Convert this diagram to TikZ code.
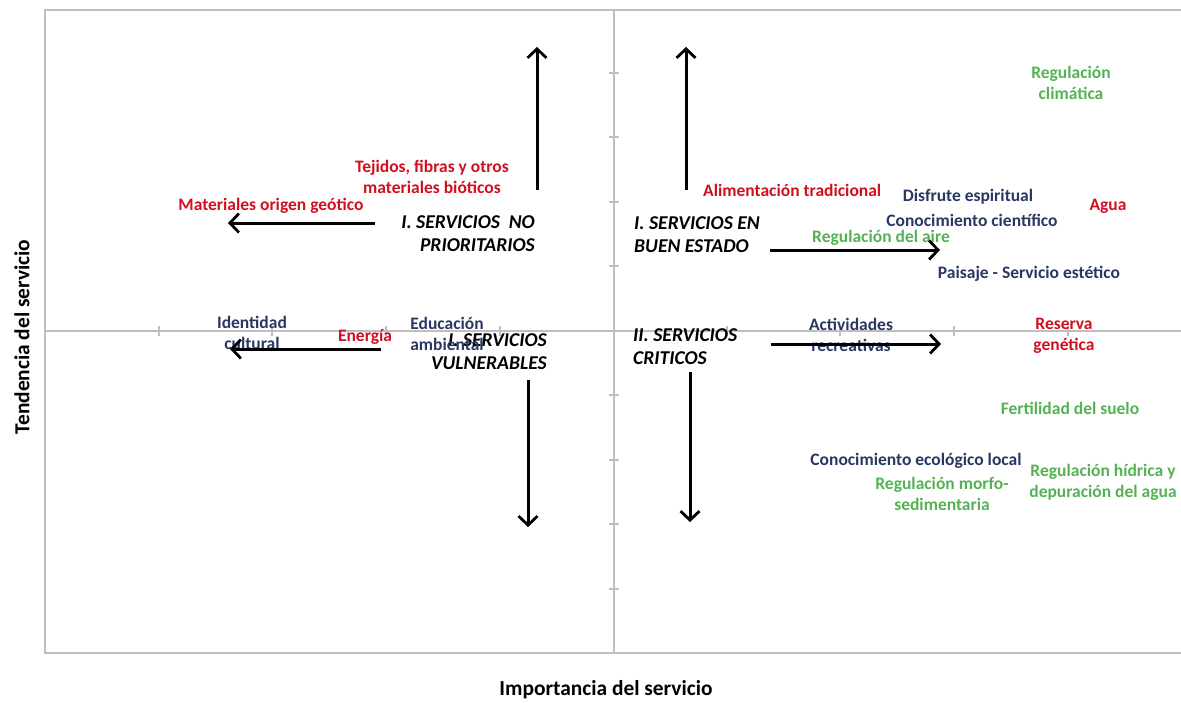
\documentclass[tikz,border=0pt]{standalone}
\usepackage{fontspec}
\setmainfont{Carlito}
\usetikzlibrary{arrows.meta}
\definecolor{rojo}{RGB}{208,16,32}
\definecolor{verde}{RGB}{84,178,84}
\definecolor{azul}{RGB}{40,56,98}
\tikzset{
  eje/.style={draw=gray!50,line width=2pt},
  tk/.style={draw=gray!50,line width=1.2pt},
  sv/.style={font=\fontsize{17.5}{21}\selectfont\bfseries,align=center,inner sep=0pt},
  sr/.style={sv,text=rojo},
  sg/.style={sv,text=verde},
  sa/.style={sv,text=azul},
  tit/.style={font=\fontsize{19.6}{23}\selectfont\bfseries\itshape,inner sep=0pt},
  ttl/.style={font=\fontsize{21.4}{25}\selectfont\bfseries,inner sep=0pt},
  fl/.style={-{Straight Barb[length=9pt,width=19pt,line width=2.8pt]},line width=3pt},
}

\begin{document}
\begin{tikzpicture}[x=1pt,y=-1pt]
  \useasboundingbox (0,0) rectangle (1181,702);

  % marco y ejes
  \draw[eje] (1181,10) -- (45,10) -- (45,653) -- (1181,653);
  \draw[eje] (614,10) -- (614,653);
  \draw[eje] (45,331) -- (1181,331);
  \foreach \y in {73,137,202,266,395,460,524,589}
    \draw[tk] (609,\y) -- (619,\y);
  \foreach \x in {159,272,386,500,727,840,954,1068}
    \draw[tk] (\x,326) -- (\x,336);

  % titulos de ejes
  \node[ttl,rotate=90] (ejey) at (22,337) {Tendencia del servicio};
  \node[ttl] (ejex) at (606,690) {Importancia del servicio};

  % cuadrantes
  \node[tit,align=right,anchor=east] (noprio) at (535,234) {I. SERVICIOS\ \ NO\\PRIORITARIOS};
  \node[tit,align=left,anchor=west] (buen) at (634,235) {I. SERVICIOS EN\\BUEN ESTADO};
  \node[tit,align=right,anchor=east] (vuln) at (547,352) {I. SERVICIOS\\VULNERABLES};
  \node[tit,align=left,anchor=west] (crit) at (633,347) {II. SERVICIOS\\CRITICOS};

  % servicios
  \node[sg] (clima) at (1071,83) {Regulación\\climática};
  \node[sr] (tejidos) at (432,177) {Tejidos, fibras y otros\\materiales bióticos};
  \node[sr] (geotico) at (271,206) {Materiales origen geótico};
  \node[sa] (identidad) at (252,333) {Identidad\\cultural};
  \node[sr] (energia) at (365,337) {Energía};
  \node[sa] (educacion) at (447,334) {Educación\\ambiental};
  \node[sr,anchor=west] (alim) at (703,190) {Alimentación tradicional};
  \node[sa] (disfrute) at (968,197) {Disfrute espiritual};
  \node[sa] (cientif) at (972,220) {Conocimiento científico};
  \node[sr] (agua) at (1108,206) {Agua};
  \node[sg] (aire) at (881,238) {Regulación del aire};
  \node[sa] (paisaje) at (1029,274) {Paisaje - Servicio estético};
  \node[sa] (activ) at (851,335) {Actividades\\recreativas};
  \node[sr] (reserva) at (1064,336) {Reserva\\genética};
  \node[sg] (suelo) at (1070,408) {Fertilidad del suelo};
  \node[sa] (ecolog) at (916,461) {Conocimiento ecológico local};
  \node[sg] (morfo) at (942,494) {Regulación morfo-\\sedimentaria};
  \node[sg] (hidrica) at (1103,482) {Regulación hídrica y\\depuración del agua};

  % flechas
  \coordinate (a1) at (537,190); \coordinate (b1) at (537,47);
  \coordinate (a2) at (375,223); \coordinate (b2) at (228,223);
  \coordinate (a3) at (381,349); \coordinate (b3) at (230,349);
  \coordinate (a4) at (528,380); \coordinate (b4) at (528,527);
  \coordinate (a5) at (686,190); \coordinate (b5) at (686,47);
  \coordinate (a6) at (770,250); \coordinate (b6) at (940,250);
  \coordinate (a7) at (771,344); \coordinate (b7) at (941,344);
  \coordinate (a8) at (690,372); \coordinate (b8) at (690,522);
  \foreach \i in {1,...,8}
    \draw[fl] (a\i) -- (b\i);
\end{tikzpicture}
\end{document}
